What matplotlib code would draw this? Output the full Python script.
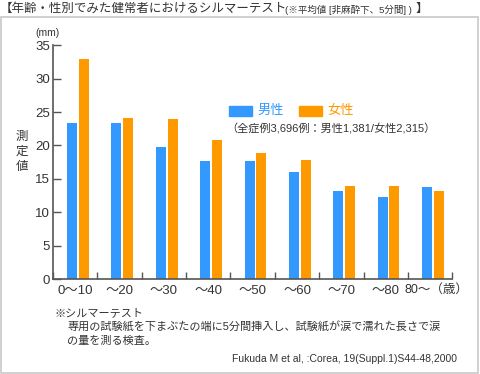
import matplotlib.pyplot as plt
from matplotlib.patches import Rectangle
import numpy as np

plt.rcParams['font.family'] = ['Liberation Sans', 'Noto Sans CJK JP', 'DejaVu Sans']

# --- データ ---
age_labels = ['0〜10', '〜20', '〜30', '〜40', '〜50', '〜60', '〜70', '〜80', '80〜']
male = [23.4, 23.4, 19.8, 17.7, 17.7, 16.0, 13.2, 12.3, 13.8]
female = [33.0, 24.1, 24.0, 20.8, 18.9, 17.8, 13.9, 13.9, 13.2]
yticks = [0, 5, 10, 15, 20, 25, 30, 35]

BLUE = '#3399ff'
ORANGE = '#ff9900'
TXT = '#333333'
AX = '#555555'

W, H = 480, 374
fig = plt.figure(figsize=(W / 100, H / 100), dpi=100)

def fx(px):
    return px / W

def fy(py):
    return 1 - py / H

# 枠
fig.patches.append(Rectangle((fx(0.5), fy(372.5)), fx(477.5), (372.5 - 17) / H,
                             transform=fig.transFigure, fill=False,
                             edgecolor='#c8c8c8', lw=1.2))

ax = fig.add_axes([fx(53), fy(279), fx(452.3 - 53), (279 - 45.3) / H])

x = np.arange(len(age_labels))
bw = 0.225
ax.bar(x - 0.1 + 0.03, male, width=bw, color=BLUE, zorder=2)
ax.bar(x + 0.165 + 0.03, female, width=bw, color=ORANGE, zorder=2)

ax.set_xlim(-0.5, len(age_labels) - 0.5)
ax.set_ylim(0, 35)
ax.spines['top'].set_visible(False)
ax.spines['right'].set_visible(False)
for s in ['left', 'bottom']:
    ax.spines[s].set_color(AX)
    ax.spines[s].set_linewidth(1.2)

ax.set_yticks(yticks)
ax.tick_params(axis='y', direction='in', length=6, width=1, color=AX,
               labelsize=9.5, labelcolor=TXT, pad=2)
ax.set_xticks(np.arange(-0.5, len(age_labels), 1.0))
ax.set_xticklabels([])
ax.tick_params(axis='x', which='major', direction='in', length=5, width=1, color=AX)
ax.set_xticks(x, minor=True)
# 最後のラベルは「（歳）」と一緒に別に置く
ax.set_xticklabels(age_labels[:-1] + [''], minor=True)
ax.tick_params(axis='x', which='minor', length=0, labelsize=9.5, labelcolor=TXT, pad=4)
fig.text(fx(468), fy(290), age_labels[-1] + '（歳）', fontsize=9,
         color=TXT, ha='right', va='center')

# 軸ラベル
fig.text(fx(47), fy(33), '(mm)', fontsize=7.5, color=TXT, ha='center', va='center')
for i, ch in enumerate('測定値'):
    fig.text(fx(22), fy(137 + i * 15), ch, fontsize=9, color=TXT, ha='center', va='center')

# 凡例
fig.patches.append(Rectangle((fx(229), fy(115.7)), fx(23), 10 / H,
                             transform=fig.transFigure, color=BLUE))
fig.text(fx(257), fy(110.5), '男性', fontsize=9.5, color=BLUE, va='center')
fig.patches.append(Rectangle((fx(299), fy(115.7)), fx(23), 10 / H,
                             transform=fig.transFigure, color=ORANGE))
fig.text(fx(327), fy(110.5), '女性', fontsize=9.5, color=ORANGE, va='center')
fig.text(fx(226), fy(129), '（全症例3,696例：男性1,381/女性2,315）',
         fontsize=8, color=TXT, va='center')

# タイトル
fig.text(fx(0), fy(9), '【年齢・性別でみた健常者におけるシルマーテスト',
         fontsize=9, color=TXT, va='center')
fig.text(fx(285), fy(10), '(※平均値 [非麻酔下、5分間] )', fontsize=6.8, color=TXT, va='center')
fig.text(fx(416), fy(9), '】', fontsize=9, color=TXT, va='center')

# 注記
fig.text(fx(55), fy(313), '※シルマーテスト', fontsize=8, color=TXT, va='center')
fig.text(fx(67), fy(327), '専用の試験紙を下まぶたの端に5分間挿入し、試験紙が涙で濡れた長さで涙',
         fontsize=8, color=TXT, va='center')
fig.text(fx(67), fy(341), 'の量を測る検査。', fontsize=8, color=TXT, va='center')
fig.text(fx(457), fy(359), 'Fukuda M et al, :Corea, 19(Suppl.1)S44-48,2000',
         fontsize=7.5, color=TXT, va='center', ha='right')

fig.savefig('out.png', dpi=100)
